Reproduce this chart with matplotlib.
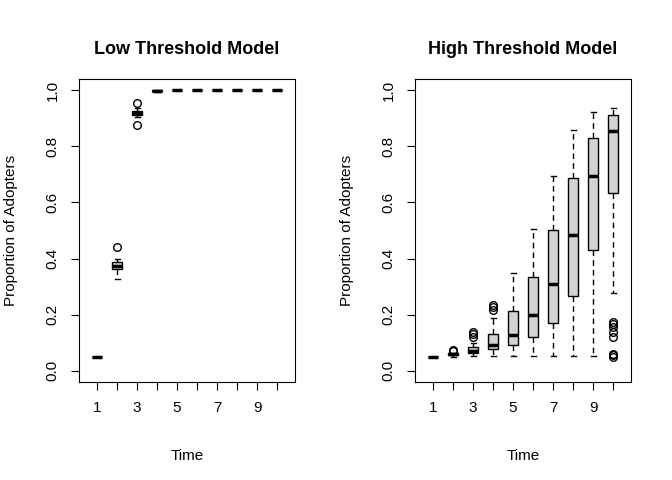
import matplotlib
matplotlib.use("Agg")
import matplotlib.pyplot as plt

plt.rcParams['font.family'] = ['Liberation Sans', 'DejaVu Sans']

times = list(range(1, 11))
# stats: (whislo, q1, med, q3, whishi, outliers)
low_stats = [
    (0.05, 0.05, 0.05, 0.05, 0.05, []),
    (0.326, 0.363, 0.375, 0.387, 0.40, [0.44]),
    (0.905, 0.912, 0.919, 0.926, 0.935, [0.956, 0.875]),
    (0.995, 0.997, 0.998, 1.0, 1.0, []),
    (1.0, 1.0, 1.0, 1.0, 1.0, []),
    (1.0, 1.0, 1.0, 1.0, 1.0, []),
    (1.0, 1.0, 1.0, 1.0, 1.0, []),
    (1.0, 1.0, 1.0, 1.0, 1.0, []),
    (1.0, 1.0, 1.0, 1.0, 1.0, []),
    (1.0, 1.0, 1.0, 1.0, 1.0, []),
]
high_stats = [
    (0.05, 0.05, 0.05, 0.05, 0.05, []),
    (0.05, 0.055, 0.059, 0.065, 0.065, [0.07, 0.075]),
    (0.053, 0.065, 0.072, 0.084, 0.10, [0.12, 0.13, 0.14]),
    (0.053, 0.077, 0.091, 0.132, 0.187, [0.217, 0.226, 0.235]),
    (0.053, 0.091, 0.129, 0.214, 0.35, []),
    (0.053, 0.122, 0.200, 0.336, 0.507, []),
    (0.053, 0.170, 0.308, 0.502, 0.695, []),
    (0.053, 0.265, 0.483, 0.688, 0.859, []),
    (0.053, 0.429, 0.696, 0.830, 0.922, []),
    (0.278, 0.632, 0.856, 0.910, 0.938, [0.05, 0.055, 0.06, 0.12, 0.14, 0.155, 0.165, 0.175]),
]
titles = ["Low Threshold Model", "High Threshold Model"]
yticks = [0.0, 0.2, 0.4, 0.6, 0.8, 1.0]
xtick_labels = ["1", "", "3", "", "5", "", "7", "", "9", ""]

fig = plt.figure(figsize=(6.72, 4.8), dpi=100)
lefts = [79/672, 415/672]
for left, stats, title in zip(lefts, [low_stats, high_stats], titles):
    ax = fig.add_axes([left, 98/480, 216/672, 303/480])
    bx = [dict(whislo=s[0], q1=s[1], med=s[2], q3=s[3], whishi=s[4], fliers=s[5]) for s in stats]
    ax.bxp(bx, positions=times, widths=0.5, patch_artist=True,
           boxprops=dict(facecolor='#D3D3D3', edgecolor='black', linewidth=1),
           medianprops=dict(color='black', linewidth=2.5),
           whiskerprops=dict(color='black', linestyle=(0, (4, 3)), linewidth=1),
           capprops=dict(color='black', linewidth=1),
           capwidths=0.25,
           flierprops=dict(marker='o', markerfacecolor='none', markeredgecolor='black', markersize=5.5, linestyle='none'))
    ax.set_xlim(0.1, 10.9)
    ax.set_ylim(-0.04, 1.04)
    ax.set_xticks(times)
    ax.set_xticklabels(xtick_labels, fontsize=11)
    ax.set_yticks(yticks)
    ax.set_yticklabels([f"{v:.1f}" for v in yticks], rotation=90, va='center', fontsize=11)
    ax.tick_params(direction='out', length=6, pad=8)
    ax.set_title(title, fontweight='bold', fontsize=13, pad=18)
    ax.set_xlabel("Time", fontsize=11, labelpad=24)
    ax.set_ylabel("Proportion of Adopters", fontsize=11, labelpad=20)
fig.savefig("out.png", dpi=100)
